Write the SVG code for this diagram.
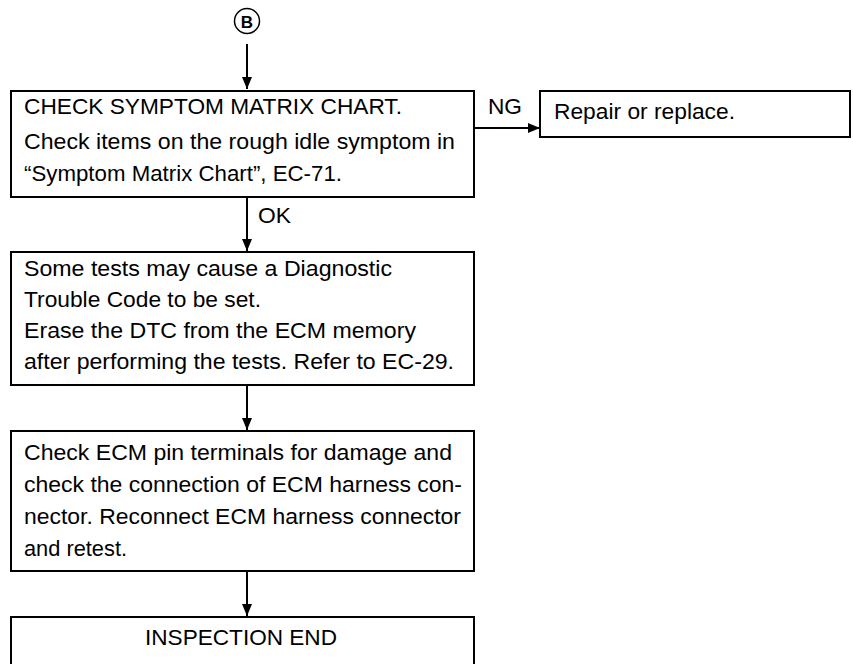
<svg xmlns="http://www.w3.org/2000/svg" width="853" height="664" viewBox="0 0 853 664">
<defs>
<style>
.box{fill:#fff;stroke:#000;stroke-width:2}
.t{font-family:"Liberation Sans",Arial,sans-serif;font-size:22.5px;fill:#000}
.ln{stroke:#000;stroke-width:2;fill:none}
</style>
<marker id="ah" markerWidth="12" markerHeight="12" viewBox="0 0 12 12" refX="12" refY="6" orient="auto" markerUnits="userSpaceOnUse">
<path d="M0,1 L12,6 L0,11 Z" fill="#000"/>
</marker>
</defs>
<rect width="853" height="664" fill="#fff"/>
<g id="connectors">
<line class="ln" x1="247" y1="44" x2="247" y2="89" marker-end="url(#ah)"/>
<line class="ln" x1="474" y1="128" x2="540" y2="128" marker-end="url(#ah)"/>
<line class="ln" x1="247" y1="197" x2="247" y2="251" marker-end="url(#ah)"/>
<line class="ln" x1="247" y1="385" x2="247" y2="430" marker-end="url(#ah)"/>
<line class="ln" x1="247" y1="571" x2="247" y2="616" marker-end="url(#ah)"/>
<text class="t" x="488" y="114" textLength="34" lengthAdjust="spacingAndGlyphs">NG</text>
<text class="t" x="258" y="223" textLength="33" lengthAdjust="spacingAndGlyphs">OK</text>
</g>
<g id="start">
<circle cx="247" cy="21" r="12.5" fill="#fff" stroke="#000" stroke-width="1.5"/>
<text x="247" y="27.5" text-anchor="middle" font-family="Liberation Sans,Arial,sans-serif" font-size="17" font-weight="bold">B</text>
</g>
<g id="check-symptom">
<rect class="box" x="11" y="91" width="463" height="106"/>
<text class="t" x="24" y="114" textLength="378" lengthAdjust="spacingAndGlyphs">CHECK SYMPTOM MATRIX CHART.</text>
<text class="t" x="24" y="149" textLength="431" lengthAdjust="spacingAndGlyphs">Check items on the rough idle symptom in</text>
<text class="t" x="24" y="181" textLength="318" lengthAdjust="spacingAndGlyphs">“Symptom Matrix Chart”, EC-71.</text>
</g>
<g id="repair">
<rect class="box" x="540" y="91" width="310" height="46"/>
<text class="t" x="554" y="119" textLength="181" lengthAdjust="spacingAndGlyphs">Repair or replace.</text>
</g>
<g id="dtc-note">
<rect class="box" x="11" y="252" width="463" height="133"/>
<text class="t" x="24" y="276" textLength="368" lengthAdjust="spacingAndGlyphs">Some tests may cause a Diagnostic</text>
<text class="t" x="24" y="307" textLength="237" lengthAdjust="spacingAndGlyphs">Trouble Code to be set.</text>
<text class="t" x="24" y="338" textLength="392" lengthAdjust="spacingAndGlyphs">Erase the DTC from the ECM memory</text>
<text class="t" x="24" y="369" textLength="430" lengthAdjust="spacingAndGlyphs">after performing the tests. Refer to EC-29.</text>
</g>
<g id="ecm-pins">
<rect class="box" x="11" y="431" width="463" height="140"/>
<text class="t" x="24" y="460" textLength="428" lengthAdjust="spacingAndGlyphs">Check ECM pin terminals for damage and</text>
<text class="t" x="24" y="492" textLength="438" lengthAdjust="spacingAndGlyphs">check the connection of ECM harness con-</text>
<text class="t" x="24" y="524" textLength="437" lengthAdjust="spacingAndGlyphs">nector. Reconnect ECM harness connector</text>
<text class="t" x="24" y="556" textLength="103" lengthAdjust="spacingAndGlyphs">and retest.</text>
</g>
<g id="end">
<rect class="box" x="11" y="617" width="463" height="60"/>
<text class="t" x="145" y="645" textLength="192" lengthAdjust="spacingAndGlyphs">INSPECTION END</text>
</g>
</svg>
